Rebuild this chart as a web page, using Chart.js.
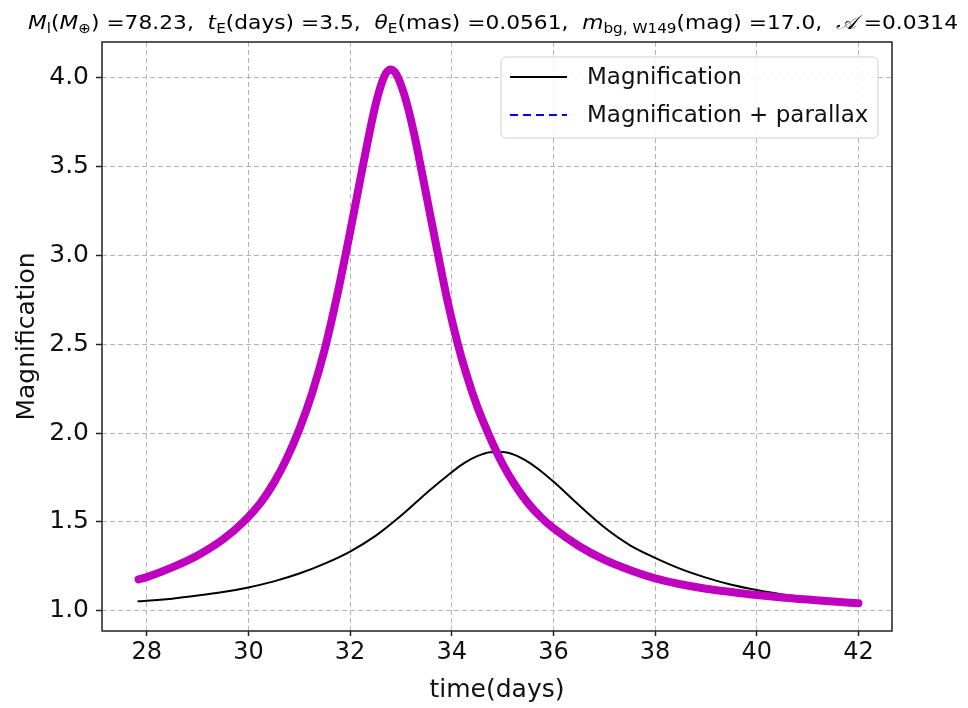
<!DOCTYPE html>
<html>
<head>
<meta charset="utf-8">
<script src="https://cdn.jsdelivr.net/npm/chart.js@4.4.0/dist/chart.umd.min.js"></script>
<style>
  html, body { margin: 0; padding: 0; background: #fff; }
  #c { display: block; }
</style>
</head>
<body>
<canvas id="c" width="968" height="708"></canvas>
<script>
// magnification without parallax (black line)
var timeStd = [27.82, 28.0, 28.5, 29.0, 29.5, 30.0, 30.5, 31.0, 31.5, 32.0, 32.5, 33.0, 33.5, 33.75, 34.0,
               34.25, 34.5, 34.75, 35.0, 35.25, 35.5, 35.75, 36.0, 36.5, 37.0, 37.5, 38.0, 38.5, 39.0, 39.5,
               40.0, 40.5, 41.0, 41.5, 42.0];
var magStd = [1.054, 1.057, 1.069, 1.086, 1.106, 1.132, 1.166, 1.210, 1.266, 1.334, 1.422, 1.535, 1.662, 1.722, 1.780,
              1.832, 1.870, 1.892, 1.894, 1.876, 1.838, 1.787, 1.727, 1.595, 1.470, 1.370, 1.298, 1.236, 1.187, 1.147,
              1.117, 1.092, 1.075, 1.060, 1.046];

// magnification + parallax (blue dashed, covered by magenta points)
var timePar = [27.84, 28.0, 28.5, 29.0, 29.5, 29.9, 30.25, 30.5, 30.75, 31.0, 31.25, 31.5, 31.75, 32.0, 32.25,
               32.5, 32.65, 32.72, 32.8, 32.88, 32.95, 33.1, 33.25, 33.41, 33.58, 33.75, 33.9, 34.12, 34.3, 34.5,
               34.73, 35.0, 35.25, 35.5, 35.75, 36.0, 36.5, 37.0, 37.5, 38.0, 38.5, 39.0, 39.5, 40.0, 40.5,
               41.0, 41.5, 42.0];
var magPar = [1.177, 1.190, 1.245, 1.312, 1.402, 1.500, 1.612, 1.720, 1.855, 2.020, 2.222, 2.470, 2.780, 3.130, 3.500,
              3.845, 3.990, 4.030, 4.045, 4.030, 3.995, 3.870, 3.695, 3.470, 3.220, 2.975, 2.765, 2.500, 2.320, 2.150,
              1.990, 1.826, 1.705, 1.606, 1.528, 1.465, 1.365, 1.288, 1.230, 1.183, 1.150, 1.125, 1.106, 1.089, 1.075,
              1.064, 1.053, 1.043];

var xTicks = [28, 30, 32, 34, 36, 38, 40, 42];
var yTicks = [1.0, 1.5, 2.0, 2.5, 3.0, 3.5, 4.0];

var legendLabels = ['Magnification', 'Magnification + parallax'];

var titleParts = [
  ['M', 'it'], ['l', 'sub'], ['(', ''], ['M', 'it'], ['\u2295', 'sub'], [') =78.23,  ', ''],
  ['t', 'it'], ['E', 'sub'], ['(days) =3.5,  ', ''],
  ['\u03b8', 'it'], ['E', 'sub'], ['(mas) =0.0561,  ', ''],
  ['m', 'it'], ['bg, W149', 'sub'], ['(mag) =17.0,  ', ''],
  ['\ud835\udc9c', 'it'], [' =0.0314', '']
];

var FONT = "'DejaVu Sans', sans-serif";
Chart.defaults.font.family = FONT;
Chart.defaults.color = '#000';

function toPts(t, m) {
  return t.map(function(v, i) { return {x: v, y: m[i]}; });
}

// title, legend and frame are drawn by hand
var decor = {
  id: 'decor',
  afterDraw: function(chart) {
    var ctx = chart.ctx;
    var a = chart.chartArea;

    // frame
    ctx.save();
    ctx.strokeStyle = '#222';
    ctx.lineWidth = 1.5;
    ctx.strokeRect(a.left, a.top, a.right - a.left, a.bottom - a.top);
    ctx.restore();

    // title with sub/italic parts
    function fontFor(k) {
      if (k === 'sub') return '14px ' + FONT;
      if (k === 'it') return 'italic 20px ' + FONT;
      return '20px ' + FONT;
    }
    ctx.save();
    var total = 0;
    titleParts.forEach(function(p) { ctx.font = fontFor(p[1]); total += ctx.measureText(p[0]).width; });
    var sx = 930 / total;
    ctx.translate(28, 29);
    ctx.scale(sx, 1);
    ctx.fillStyle = '#000';
    ctx.textBaseline = 'alphabetic';
    var x = 0;
    titleParts.forEach(function(p) {
      ctx.font = fontFor(p[1]);
      ctx.fillText(p[0], x, p[1] === 'sub' ? 4 : 0);
      x += ctx.measureText(p[0]).width;
    });
    ctx.restore();

    // legend
    ctx.save();
    var bx = 501, by = 57, bw = 377, bh = 81, r = 5;
    ctx.beginPath();
    ctx.moveTo(bx + r, by);
    ctx.arcTo(bx + bw, by, bx + bw, by + bh, r);
    ctx.arcTo(bx + bw, by + bh, bx, by + bh, r);
    ctx.arcTo(bx, by + bh, bx, by, r);
    ctx.arcTo(bx, by, bx + bw, by, r);
    ctx.closePath();
    ctx.fillStyle = 'rgba(255,255,255,0.85)';
    ctx.fill();
    ctx.strokeStyle = '#d0d0d0';
    ctx.lineWidth = 1;
    ctx.stroke();

    ctx.lineWidth = 2;
    ctx.strokeStyle = '#000';
    ctx.beginPath(); ctx.moveTo(510, 77); ctx.lineTo(567, 77); ctx.stroke();
    ctx.strokeStyle = '#0000ff';
    ctx.setLineDash([8, 5]);
    ctx.beginPath(); ctx.moveTo(510, 115); ctx.lineTo(567, 115); ctx.stroke();
    ctx.setLineDash([]);

    ctx.fillStyle = '#111';
    ctx.font = '23px ' + FONT;
    ctx.textBaseline = 'middle';
    ctx.fillText(legendLabels[0], 587, 78);
    ctx.fillText(legendLabels[1], 587, 116);
    ctx.restore();
  }
};

var ctx = document.getElementById('c').getContext('2d');
var myChart = new Chart(ctx, {
  type: 'line',
  data: {
    datasets: [{
      label: 'parallax points',
      data: toPts(timePar, magPar),
      borderColor: '#bf00bf',
      borderWidth: 8,
      borderCapStyle: 'round',
      borderJoinStyle: 'round',
      pointRadius: 0,
      cubicInterpolationMode: 'monotone',
      order: 0
    },
    {
      label: legendLabels[0],
      data: toPts(timeStd, magStd),
      borderColor: '#000000',
      borderWidth: 2,
      pointRadius: 0,
      cubicInterpolationMode: 'monotone',
      order: 1
    },
    {
      label: legendLabels[1],
      data: toPts(timePar, magPar),
      borderColor: '#0000ff',
      borderWidth: 2,
      borderDash: [8, 5],
      pointRadius: 0,
      cubicInterpolationMode: 'monotone',
      order: 2
    }]
  },
  options: {
    responsive: false,
    animation: false,
    devicePixelRatio: 1,
    layout: { padding: { top: 42, right: 76, left: 0, bottom: 0 } },
    plugins: {
      legend: { display: false },
      tooltip: { enabled: false },
      title: { display: false }
    },
    scales: {
      x: {
        type: 'linear',
        min: 27.12,
        max: 42.66,
        afterFit: function(s) { s.height = 77; },
        afterBuildTicks: function(s) { s.ticks = xTicks.map(function(v) { return {value: v}; }); },
        ticks: {
          font: { size: 24 },
          color: '#111',
          padding: 2,
          maxRotation: 0,
          callback: function(v) { return String(v); }
        },
        grid: {
          color: '#b4b4b4',
          lineWidth: 1,
          tickLength: 5,
          tickColor: '#222',
          tickWidth: 1.5,
          tickBorderDash: []
        },
        border: { display: false, dash: [5, 3] },
        title: {
          display: true,
          text: 'time(days)',
          font: { size: 25 },
          color: '#111',
          padding: { top: 0, bottom: 3 }
        }
      },
      y: {
        type: 'linear',
        min: 0.887,
        max: 4.199,
        afterFit: function(s) { s.width = 102; },
        afterBuildTicks: function(s) { s.ticks = yTicks.map(function(v) { return {value: v}; }); },
        ticks: {
          font: { size: 25 },
          color: '#111',
          padding: 7,
          callback: function(v) { return v.toFixed(1); }
        },
        grid: {
          color: '#b4b4b4',
          lineWidth: 1,
          tickLength: 6,
          tickColor: '#222',
          tickWidth: 1.5,
          tickBorderDash: []
        },
        border: { display: false, dash: [5, 3] },
        title: {
          display: true,
          text: 'Magnification',
          font: { size: 25 },
          color: '#111',
          padding: { top: 12, bottom: 0 }
        }
      }
    }
  },
  plugins: [decor]
});
</script>
</body>
</html>
